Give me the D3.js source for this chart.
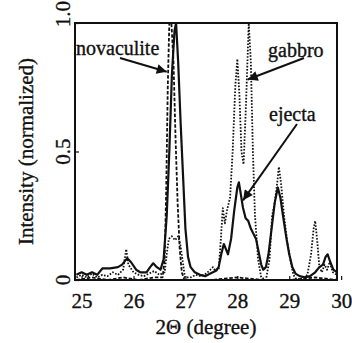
<!DOCTYPE html>
<html>
<head>
<meta charset="utf-8">
<script src="https://cdn.jsdelivr.net/npm/d3@7"></script>
<style>
    html, body { margin: 0; padding: 0; background: #fff; }
    svg { display: block; font-family: 'Liberation Serif', 'Times New Roman', serif; }
    svg text { stroke: #111; stroke-width: 0.35px; }
</style>
</head>
<body>
<svg id="chart" width="352" height="343"></svg>
<script>
// Data: [2theta (deg), normalized intensity]
const ejecta = [
    [24.9, 0.02], [25.0, 0.03], [25.1, 0.02], [25.2, 0.03], [25.3, 0.02], [25.4, 0.045],
    [25.55, 0.045], [25.7, 0.05], [25.78, 0.06], [25.88, 0.085], [25.95, 0.07], [26.05, 0.04],
    [26.13, 0.03], [26.25, 0.03], [26.32, 0.05], [26.38, 0.065], [26.45, 0.05], [26.52, 0.04],
    [26.58, 0.08], [26.64, 0.25], [26.69, 0.5], [26.74, 0.8], [26.79, 0.97], [26.82, 1.0],
    [26.86, 0.85], [26.91, 0.6], [26.96, 0.38], [27.0, 0.2], [27.05, 0.09], [27.1, 0.05],
    [27.18, 0.03], [27.28, 0.02], [27.38, 0.015], [27.48, 0.025], [27.58, 0.035], [27.64, 0.05],
    [27.69, 0.1], [27.74, 0.14], [27.78, 0.12], [27.82, 0.1], [27.88, 0.16], [27.94, 0.27],
    [28.0, 0.36], [28.03, 0.38], [28.07, 0.33], [28.11, 0.28], [28.16, 0.24], [28.21, 0.23],
    [28.26, 0.2], [28.31, 0.18], [28.36, 0.16], [28.41, 0.11], [28.46, 0.06], [28.5, 0.04],
    [28.55, 0.05], [28.6, 0.1], [28.66, 0.2], [28.72, 0.3], [28.78, 0.36], [28.83, 0.32],
    [28.88, 0.25], [28.94, 0.17], [29.0, 0.1], [29.06, 0.05], [29.12, 0.025], [29.2, 0.015],
    [29.3, 0.01], [29.4, 0.015], [29.5, 0.03], [29.58, 0.05], [29.65, 0.06], [29.7, 0.09],
    [29.74, 0.1], [29.79, 0.07], [29.85, 0.04], [29.92, 0.03],
];

const gabbro = [
    [24.9, 0.01], [25.0, 0.02], [25.1, 0.01], [25.2, 0.025], [25.3, 0.01], [25.4, 0.02],
    [25.5, 0.015], [25.6, 0.03], [25.7, 0.02], [25.8, 0.04], [25.86, 0.12], [25.9, 0.06],
    [26.0, 0.03], [26.1, 0.02], [26.2, 0.015], [26.3, 0.025], [26.4, 0.035], [26.5, 0.02],
    [26.6, 0.03], [26.64, 0.1], [26.68, 0.16], [26.74, 0.17], [26.8, 0.155], [26.86, 0.17],
    [26.9, 0.14], [26.95, 0.07], [26.99, 0.01], [27.1, 0.01], [27.2, 0.02], [27.3, 0.015],
    [27.4, 0.025], [27.48, 0.04], [27.53, 0.05], [27.58, 0.035], [27.64, 0.04], [27.68, 0.15],
    [27.72, 0.28], [27.76, 0.22], [27.8, 0.27], [27.86, 0.32], [27.91, 0.5], [27.96, 0.75],
    [28.0, 0.86], [28.04, 0.72], [28.08, 0.5], [28.12, 0.45], [28.17, 0.7], [28.22, 1.0],
    [28.26, 0.85], [28.3, 0.5], [28.34, 0.25], [28.4, 0.08], [28.46, 0.01], [28.55, 0.0],
    [28.62, 0.08], [28.67, 0.25], [28.72, 0.3], [28.77, 0.38], [28.8, 0.44], [28.84, 0.38],
    [28.9, 0.25], [28.96, 0.15], [29.02, 0.08], [29.08, 0.02], [29.15, 0.0], [29.25, 0.005],
    [29.35, 0.02], [29.42, 0.1], [29.47, 0.2], [29.5, 0.23], [29.54, 0.15], [29.58, 0.05],
    [29.63, 0.03], [29.68, 0.06], [29.73, 0.04], [29.78, 0.07], [29.84, 0.03], [29.92, 0.02],
];

const novaculite = [
    [24.9, 0.0], [25.2, 0.01], [25.5, 0.0], [25.8, 0.01], [26.1, 0.0], [26.4, 0.01],
    [26.56, 0.01], [26.6, 0.08], [26.63, 0.35], [26.66, 0.75], [26.69, 1.0], [26.73, 1.0],
    [26.77, 0.85], [26.81, 0.55], [26.85, 0.3], [26.89, 0.12], [26.93, 0.03], [26.98, 0.0],
    [27.5, 0.0], [28.0, 0.01], [28.5, 0.0], [29.0, 0.0], [29.5, 0.01], [29.92, 0.0],
];

const xTicks = [25, 26, 27, 28, 29, 30];
const yTicks = [0, 0.5, 1.0];
const yTickLabels = ['0', '0.5', '1.0'];
const xDomain = [24.873, 29.92];
const yDomain = [0, 1];

// Series styles
const series = [
    { name: 'gabbro', data: gabbro, dash: '1.6 1.6', width: 1.8 },
    { name: 'novaculite', data: novaculite, dash: '3.5 1.8', width: 1.8 },
    { name: 'ejecta', data: ejecta, dash: null, width: 2.2 },
];

// Annotation labels with arrows: text position, arrow start, arrow tip in data units
const annotations = [
    { text: 'novaculite', tx: 76, ty: 55, from: [120, 58], tip: [26.64, 0.81] },
    { text: 'gabbro', tx: 268, ty: 57, from: [304, 58], tip: [28.2, 0.78] },
    { text: 'ejecta', tx: 269, ty: 121, from: [297, 124], tip: [28.11, 0.31] },
];

const svg = d3.select('#chart');
const margins = { left: 75, top: 23, right: 15, bottom: 63 };
const width = 352;
const height = 343;
const innerWidth = width - margins.left - margins.right;
const innerHeight = height - margins.top - margins.bottom;

const x = d3.scaleLinear().domain(xDomain).range([0, innerWidth]);
const y = d3.scaleLinear().domain(yDomain).range([innerHeight, 0]);

const plot = svg.append('g')
    .attr('transform', `translate(${margins.left}, ${margins.top})`);

svg.append('defs').append('marker')
    .attr('id', 'arrow')
    .attr('viewBox', '0 0 10 10')
    .attr('refX', 10)
    .attr('refY', 5)
    .attr('markerWidth', 7)
    .attr('markerHeight', 5)
    .attr('markerUnits', 'strokeWidth')
    .attr('orient', 'auto')
    .append('path')
    .attr('d', 'M0,0 L10,5 L0,10 z')
    .attr('fill', '#111');

// Axes (ticks inside the frame)
const xAxis = d3.axisBottom(x)
    .tickValues(xTicks)
    .tickFormat(d3.format('d'))
    .tickSize(-4)
    .tickSizeOuter(0)
    .tickPadding(13);

const xAxisG = plot.append('g')
    .attr('transform', `translate(0, ${innerHeight})`)
    .call(xAxis);

xAxisG.select('.domain').remove();
xAxisG.selectAll('.tick line').attr('stroke', '#111').attr('stroke-width', 1.2);
xAxisG.selectAll('.tick text')
    .attr('fill', '#111')
    .style('font-family', "'Liberation Serif', serif")
    .style('font-size', '21px');

const yAxis = d3.axisLeft(y)
    .tickValues(yTicks)
    .tickSize(-4)
    .tickSizeOuter(0)
    .tickFormat('');

const yAxisG = plot.append('g').call(yAxis);
yAxisG.select('.domain').remove();
yAxisG.selectAll('.tick line').attr('stroke', '#111').attr('stroke-width', 1.2);

// Rotated y tick labels; the top one is pushed up so it clears the frame corner
const labelY = (d) => (d === yDomain[1] ? y(d) - 9 : y(d));

plot.append('g')
    .selectAll('text')
    .data(yTicks)
    .join('text')
    .attr('transform', (d) => `translate(-5, ${labelY(d)}) rotate(-90)`)
    .attr('text-anchor', 'middle')
    .attr('fill', '#111')
    .style('font-size', '21px')
    .text((d, i) => yTickLabels[i]);

// Lines
const line = d3.line()
    .x((d) => x(d[0]))
    .y((d) => y(d[1]));

plot.append('defs').append('clipPath')
    .attr('id', 'clip')
    .append('rect')
    .attr('width', innerWidth)
    .attr('height', innerHeight);

plot.append('g')
    .attr('clip-path', 'url(#clip)')
    .selectAll('path')
    .data(series)
    .join('path')
    .attr('d', (d) => line(d.data))
    .attr('fill', 'none')
    .attr('stroke', '#111')
    .attr('stroke-width', (d) => d.width)
    .attr('stroke-linejoin', 'round')
    .attr('stroke-dasharray', (d) => d.dash);

// Frame
plot.append('rect')
    .attr('width', innerWidth)
    .attr('height', innerHeight)
    .attr('fill', 'none')
    .attr('stroke', '#111')
    .attr('stroke-width', 2);

// Annotations
const ann = svg.append('g').attr('class', 'annotations');

ann.selectAll('line')
    .data(annotations)
    .join('line')
    .attr('x1', (d) => d.from[0])
    .attr('y1', (d) => d.from[1])
    .attr('x2', (d) => margins.left + x(d.tip[0]))
    .attr('y2', (d) => margins.top + y(d.tip[1]))
    .attr('stroke', '#111')
    .attr('stroke-width', 2)
    .attr('marker-end', 'url(#arrow)');

ann.selectAll('text')
    .data(annotations)
    .join('text')
    .attr('x', (d) => d.tx)
    .attr('y', (d) => d.ty)
    .attr('fill', '#111')
    .style('font-size', '20px')
    .text((d) => d.text);

// Axis titles
svg.append('text')
    .attr('transform', `translate(33, ${margins.top + innerHeight / 2}) rotate(-90)`)
    .attr('text-anchor', 'middle')
    .attr('fill', '#111')
    .style('font-size', '21px')
    .text('Intensity (normalized)');

svg.append('text')
    .attr('x', margins.left + innerWidth / 2)
    .attr('y', 334)
    .attr('text-anchor', 'middle')
    .attr('fill', '#111')
    .style('font-size', '21px')
    .text('2Θ (degree)');
</script>
</body>
</html>
